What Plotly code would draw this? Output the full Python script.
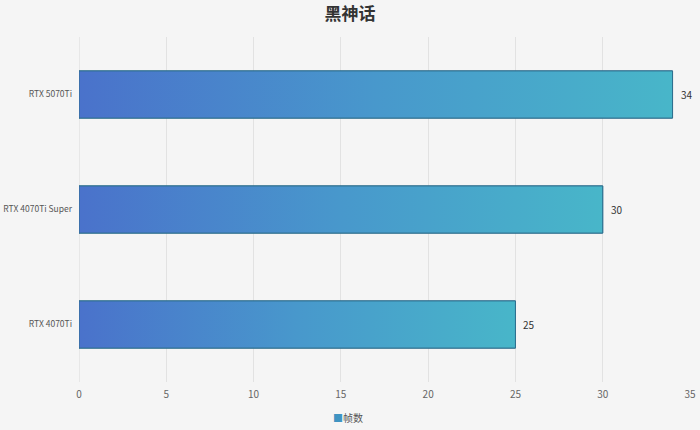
import plotly.graph_objects as go

# data (top to bottom in the picture)
gpus = ["RTX 5070Ti", "RTX 4070Ti Super", "RTX 4070Ti"]
fps = [34, 30, 25]
series_name = "帧数"
x_ticks = [0, 5, 10, 15, 20, 25, 30, 35]

bar_half = 0.205
c_left = "#4a72cb"
c_right = "#48b6c9"
c_edge = "#2e6f8e"

fig = go.Figure()

ypos = list(range(len(gpus)))
fig.add_trace(go.Bar(
    x=fps, y=ypos, orientation="h", width=bar_half * 2,
    name=series_name,
    marker=dict(color="#3f94c2", line=dict(color=c_edge, width=1)),
    showlegend=False,
))

# gradient fill drawn over each bar
for y, v in zip(ypos, fps):
    fig.add_trace(go.Scatter(
        x=[0, v, v, 0, 0],
        y=[y - bar_half, y - bar_half, y + bar_half, y + bar_half, y - bar_half],
        mode="lines", fill="toself",
        line=dict(color=c_edge, width=1),
        fillgradient=dict(type="horizontal", start=0, stop=v,
                          colorscale=[[0, c_left], [0.5, "#4898cc"], [1, c_right]]),
        showlegend=False, hoverinfo="skip",
    ))

# value labels
for y, v in zip(ypos, fps):
    fig.add_annotation(x=v, y=y, text=str(v), showarrow=False,
                       xanchor="left", xshift=6,
                       font=dict(size=10, color="#333333"))

# legend drawn as a centred caption
fig.add_annotation(
    xref="paper", yref="paper", x=0.44, y=-0.075, yanchor="top", showarrow=False,
    text="<span style='color:#3f94c2'>■</span>" + series_name,
    font=dict(size=10, color="#555555"),
)

fig.update_layout(
    width=700, height=430,
    margin=dict(l=79, r=10, t=37, b=48),
    paper_bgcolor="#f5f5f5", plot_bgcolor="#f5f5f5",
    font=dict(family="Noto Sans CJK SC, Open Sans, sans-serif", color="#555555"),
    title=dict(text="<b>黑神话</b>", x=0.5, xanchor="center", y=0.982, yanchor="top",
               font=dict(size=17, color="#333333", family="Noto Sans CJK SC")),
    showlegend=False,
)

fig.update_xaxes(
    range=[0, 35], tickvals=x_ticks, showgrid=True, gridcolor="#e2e2e2",
    zeroline=False, showline=False, ticks="", tickfont=dict(size=10, color="#666666"),
    ticklabelstandoff=5, automargin=False, fixedrange=True,
)
fig.update_yaxes(
    range=[len(gpus) - 0.5, -0.5], tickvals=ypos, ticktext=gpus,
    showgrid=False, zeroline=False, showline=False, ticks="",
    tickfont=dict(size=8.5, color="#555555"), ticklabelstandoff=6,
    automargin=False, fixedrange=True,
)
fig.add_vline(x=0, line=dict(color="#dadada", width=1), layer="below")

fig.write_html("out.html", config={"displayModeBar": False},
               post_script="document.body.style.margin='0';")
